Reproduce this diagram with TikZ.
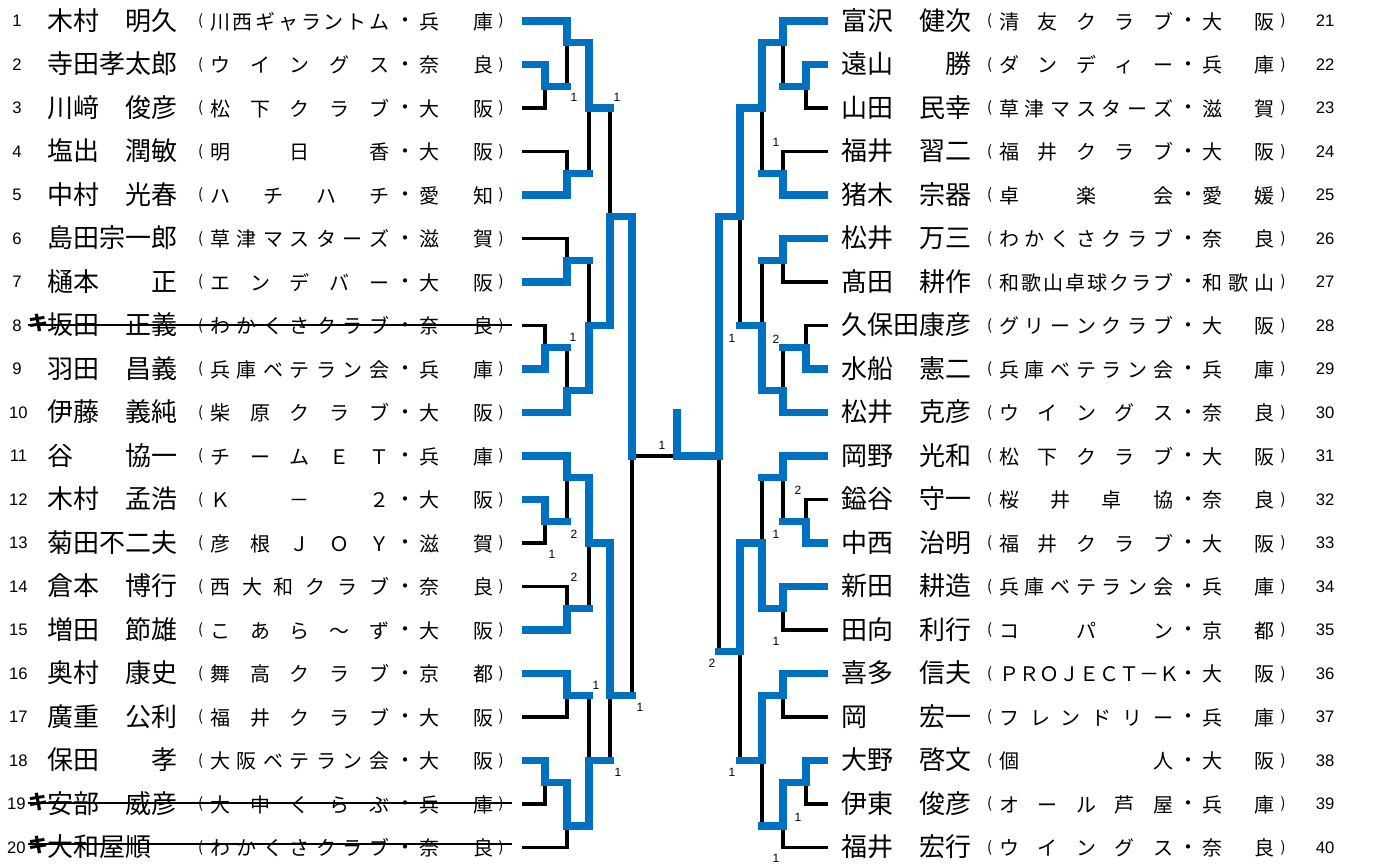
\documentclass[tikz,border=0pt]{standalone}
\usepackage{fontspec}
\setmainfont{Liberation Sans}
\newfontfamily\jp{Noto Sans CJK JP}
\definecolor{wblue}{RGB}{0,112,192}
\def\spreadaux#1{\ifx#1\relax\else#1\expandafter\spreadmore\fi}
\def\spreadmore#1{\ifx#1\relax\else\hfill#1\expandafter\spreadmore\fi}
\newcommand\spreadbox[2]{\hbox to #1{\expandafter\spreadaux#2\relax}}
\tikzset{
 win/.style={draw=wblue, line width=5.6pt, line cap=rect, line join=miter},
 lose/.style={draw=black, line width=2.4pt, line join=miter},
 lbl/.style={inner sep=0pt, font=\fontsize{9}{10}\selectfont},
 rnum/.style={inner sep=0pt, font=\fontsize{12.5}{13}\selectfont},
 nmtext/.style={anchor=base west, inner sep=0pt, font=\jp\fontsize{19.5}{20}\selectfont},
 cltext/.style={anchor=base west, inner sep=0pt, font=\jp\fontsize{15}{16}\selectfont},
 prtext/.style={anchor=base, inner sep=0pt, font=\jp\fontsize{11}{12}\selectfont},
 midd/.style={anchor=base, inner sep=0pt, font=\jp\fontsize{15}{16}\selectfont},
 kimark/.style={anchor=base, inner sep=0pt, font=\jp\bfseries\fontsize{15}{16}\selectfont},
 strike/.style={draw=black, line width=1.5pt}
}
\begin{document}
\begin{tikzpicture}[x=0.75pt,y=-0.75pt]
\fill[white] (0,0) rectangle (1376,865);
\useasboundingbox (0,0) rectangle (1376,865);

% ---------- left texts
\foreach \k/\nm/\cl/\pf in {
 1/木村　明久/川西ギャラントム/兵庫,
 2/寺田孝太郎/ウイングス/奈良,
 3/川﨑　俊彦/松下クラブ/大阪,
 4/塩出　潤敏/明日香/大阪,
 5/中村　光春/ハチハチ/愛知,
 6/島田宗一郎/草津マスターズ/滋賀,
 7/樋本　　正/エンデバー/大阪,
 8/坂田　正義/わかくさクラブ/奈良,
 9/羽田　昌義/兵庫ベテラン会/兵庫,
 10/伊藤　義純/柴原クラブ/大阪,
 11/谷　　協一/チームＥＴ/兵庫,
 12/木村　孟浩/Ｋ－２/大阪,
 13/菊田不二夫/彦根ＪＯＹ/滋賀,
 14/倉本　博行/西大和クラブ/奈良,
 15/増田　節雄/こあら～ず/大阪,
 16/奥村　康史/舞高クラブ/京都,
 17/廣重　公利/福井クラブ/大阪,
 18/保田　　孝/大阪ベテラン会/大阪,
 19/安部　威彦/大中くらぶ/兵庫,
 20/大和屋順/わかくさクラブ/奈良}{
 \pgfmathsetmacro\yy{21+43.5*(\k-1)}
 \pgfmathsetmacro\nx{\k<10 ? 17 : (\k<19 ? 18.5 : 16.5)}
 \node[rnum] (num\k) at (\nx,\yy) {\k};
 \node[nmtext] (nm\k) at (47,\yy+9) {\nm};
 \node[prtext] (po\k) at (200.5,\yy+4.5) {(};
 \node[cltext] (cl\k) at (210,\yy+8) {\spreadbox{134.25pt}{\cl}};
 \node[midd] (md\k) at (405,\yy+6.5) {・};
 \node[cltext] (pf\k) at (419,\yy+8) {\spreadbox{55.5pt}{\pf}};
 \node[prtext] (pc\k) at (501,\yy+4.5) {)};
 \coordinate (L\k) at (522,\yy);
}

% ---------- right texts
\foreach \k/\nm/\cl/\pf in {
 21/富沢　健次/清友クラブ/大阪,
 22/遠山　　勝/ダンディー/兵庫,
 23/山田　民幸/草津マスターズ/滋賀,
 24/福井　習二/福井クラブ/大阪,
 25/猪木　宗器/卓楽会/愛媛,
 26/松井　万三/わかくさクラブ/奈良,
 27/髙田　耕作/和歌山卓球クラブ/和歌山,
 28/久保田康彦/グリーンクラブ/大阪,
 29/水船　憲二/兵庫ベテラン会/兵庫,
 30/松井　克彦/ウイングス/奈良,
 31/岡野　光和/松下クラブ/大阪,
 32/鎰谷　守一/桜井卓協/奈良,
 33/中西　治明/福井クラブ/大阪,
 34/新田　耕造/兵庫ベテラン会/兵庫,
 35/田向　利行/コパン/京都,
 36/喜多　信夫/ＰＲＯＪＥＣＴ－Ｋ/大阪,
 37/岡　　宏一/フレンドリー/兵庫,
 38/大野　啓文/個人/大阪,
 39/伊東　俊彦/オール芦屋/兵庫,
 40/福井　宏行/ウイングス/奈良}{
 \pgfmathsetmacro\yy{21+43.5*(\k-21)}
 \node[rnum] (num\k) at (1325,\yy) {\k};
 \node[nmtext] (nm\k) at (841,\yy+9) {\nm};
 \node[prtext] (po\k) at (989.5,\yy+4.5) {(};
 \node[cltext] (cl\k) at (999,\yy+8) {\spreadbox{130.5pt}{\cl}};
 \node[midd] (md\k) at (1188,\yy+6.5) {・};
 \node[cltext] (pf\k) at (1202,\yy+8) {\spreadbox{54pt}{\pf}};
 \node[prtext] (pc\k) at (1283,\yy+4.5) {)};
 \coordinate (R\k) at (828,\yy);
}

% ---------- withdrawn entries
\node[kimark] (ki8) at (38,325.5+5) {キ};
\node[kimark] (ki19) at (38,804+5) {キ};
\node[kimark] (ki20) at (38,847.5+5) {キ};
\draw[strike] (28,324.5) -- (512,324.5);
\draw[strike] (28,802.5) -- (512,802.5);
\draw[strike] (28,843.5) -- (512,843.5);

% ---------- bracket (y in half rows)
\begin{scope}[yshift=-15.75pt, y=-16.3125pt]
% left losers
\draw[lose] (L3) -- (545,4) -- (545,3);
\draw[lose] (567,3) -- (567,1);
\draw[lose] (L4) -- (567,6) -- (567,7);
\draw[lose] (589,7) -- (589,4);
\draw[lose] (610,4) -- (610,9);
\draw[lose] (L6) -- (567,10) -- (567,11);
\draw[lose] (589,11) -- (589,14);
\draw[lose] (L8) -- (545,14) -- (545,15);
\draw[lose] (567,15) -- (567,17);
\draw[lose] (632,20) -- (677,20);
\draw[lose] (632,31) -- (632,20);
\draw[lose] (L13) -- (545,24) -- (545,23);
\draw[lose] (567,23) -- (567,21);
\draw[lose] (L14) -- (567,26) -- (567,27);
\draw[lose] (589,27) -- (589,24);
\draw[lose] (L17) -- (567,32) -- (567,31);
\draw[lose] (589,31) -- (589,34);
\draw[lose] (L19) -- (545,36) -- (545,35);
\draw[lose] (L20) -- (567,38) -- (567,37);
\draw[lose] (610,34) -- (610,31);
% right losers
\draw[lose] (R23) -- (806,4) -- (806,3);
\draw[lose] (783,3) -- (783,1);
\draw[lose] (R24) -- (783,6) -- (783,7);
\draw[lose] (762,7) -- (762,4);
\draw[lose] (740,9) -- (740,14);
\draw[lose] (R27) -- (783,12) -- (783,11);
\draw[lose] (762,11) -- (762,14);
\draw[lose] (R28) -- (806,14) -- (806,15);
\draw[lose] (783,15) -- (783,17);
\draw[lose] (R32) -- (806,22) -- (806,23);
\draw[lose] (783,23) -- (783,21);
\draw[lose] (762,21) -- (762,24);
\draw[lose] (R35) -- (783,28) -- (783,27);
\draw[lose] (719,29) -- (719,20);
\draw[lose] (R37) -- (783,32) -- (783,31);
\draw[lose] (740,34) -- (740,29);
\draw[lose] (R39) -- (806,36) -- (806,35);
\draw[lose] (R40) -- (783,38) -- (783,37);
\draw[lose] (762,37) -- (762,34);
% left winners
\draw[win] ([xshift=2.8pt]L1) -- (567,0) -- (567,1) -- (589,1) -- (589,4) -- (610,4);
\draw[win] ([xshift=2.8pt]L2) -- (545,2) -- (545,3) -- (567,3);
\draw[win] ([xshift=2.8pt]L5) -- (567,8) -- (567,7) -- (589,7);
\draw[win] ([xshift=2.8pt]L7) -- (567,12) -- (567,11) -- (589,11);
\draw[win] ([xshift=2.8pt]L9) -- (545,16) -- (545,15) -- (567,15);
\draw[win] ([xshift=2.8pt]L10) -- (567,18) -- (567,17) -- (589,17) -- (589,14) -- (610,14) -- (610,9) -- (632,9) -- (632,20);
\draw[win] ([xshift=2.8pt]L11) -- (567,20) -- (567,21) -- (589,21) -- (589,24) -- (610,24) -- (610,31) -- (632,31);
\draw[win] ([xshift=2.8pt]L12) -- (545,22) -- (545,23) -- (567,23);
\draw[win] ([xshift=2.8pt]L15) -- (567,28) -- (567,27) -- (589,27);
\draw[win] ([xshift=2.8pt]L16) -- (567,30) -- (567,31) -- (589,31);
\draw[win] ([xshift=2.8pt]L18) -- (545,34) -- (545,35) -- (567,35) -- (567,37) -- (589,37) -- (589,34) -- (610,34);
% right winners
\draw[win] ([xshift=-2.8pt]R21) -- (783,0) -- (783,1) -- (762,1) -- (762,4) -- (740,4) -- (740,9) -- (719,9) -- (719,20) -- (677,20) -- (677,18);
\draw[win] ([xshift=-2.8pt]R22) -- (806,2) -- (806,3) -- (783,3);
\draw[win] ([xshift=-2.8pt]R25) -- (783,8) -- (783,7) -- (762,7);
\draw[win] ([xshift=-2.8pt]R26) -- (783,10) -- (783,11) -- (762,11);
\draw[win] ([xshift=-2.8pt]R29) -- (806,16) -- (806,15) -- (783,15);
\draw[win] ([xshift=-2.8pt]R30) -- (783,18) -- (783,17) -- (762,17) -- (762,14) -- (740,14);
\draw[win] ([xshift=-2.8pt]R31) -- (783,20) -- (783,21) -- (762,21);
\draw[win] ([xshift=-2.8pt]R33) -- (806,24) -- (806,23) -- (783,23);
\draw[win] ([xshift=-2.8pt]R34) -- (783,26) -- (783,27) -- (762,27) -- (762,24) -- (740,24) -- (740,29) -- (719,29);
\draw[win] ([xshift=-2.8pt]R36) -- (783,30) -- (783,31) -- (762,31) -- (762,34) -- (740,34);
\draw[win] ([xshift=-2.8pt]R38) -- (806,34) -- (806,35) -- (783,35) -- (783,37) -- (762,37);
\end{scope}

% ---------- scores
\node[lbl] (s1) at (574,97) {1};
\node[lbl] (s2) at (617,97) {1};
\node[lbl] (s3) at (573,337) {1};
\node[lbl] (s4) at (662,445) {1};
\node[lbl] (s5) at (574,534) {2};
\node[lbl] (s6) at (552,554) {1};
\node[lbl] (s7) at (574,577) {2};
\node[lbl] (s8) at (596,685) {1};
\node[lbl] (s9) at (640,707) {1};
\node[lbl] (s10) at (618,772) {1};
\node[lbl] (s11) at (776,142) {1};
\node[lbl] (s12) at (732,338) {1};
\node[lbl] (s13) at (776,339) {2};
\node[lbl] (s14) at (798,490) {2};
\node[lbl] (s15) at (776,534) {1};
\node[lbl] (s16) at (776,641) {1};
\node[lbl] (s17) at (712,663) {2};
\node[lbl] (s18) at (732,772) {1};
\node[lbl] (s19) at (798,817) {1};
\node[lbl] (s20) at (776,858) {1};
\end{tikzpicture}
\end{document}
